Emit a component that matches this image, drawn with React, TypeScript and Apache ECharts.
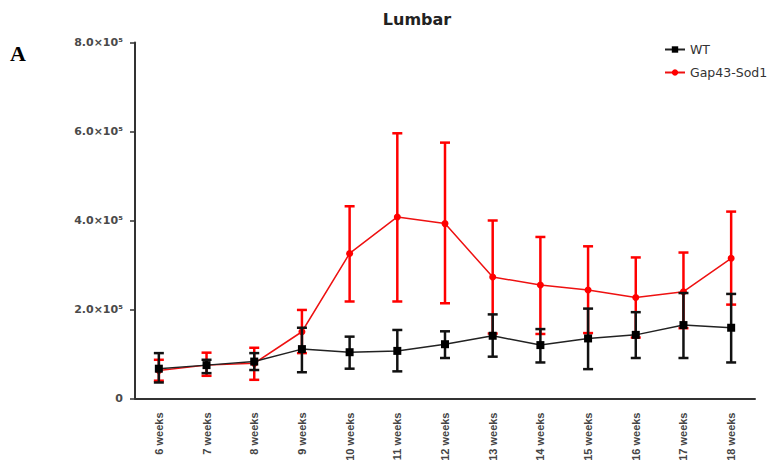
import React, { useEffect, useRef } from "react";
import * as echarts from "echarts";

const weeks = ["6 weeks", "7 weeks", "8 weeks", "9 weeks", "10 weeks", "11 weeks", "12 weeks", "13 weeks", "14 weeks", "15 weeks", "16 weeks", "17 weeks", "18 weeks"];
const yTicks = [0, 200000, 400000, 600000, 800000];

const wtMean = [67000, 75000, 83000, 111000, 104000, 107000, 122000, 141000, 120000, 135000, 143000, 165000, 159000];
const wtLow = [36000, 57000, 64000, 59000, 67000, 61000, 91000, 94000, 81000, 66000, 91000, 91000, 81000];
const wtHigh = [102000, 87000, 102000, 159000, 139000, 154000, 151000, 189000, 156000, 202000, 194000, 237000, 235000];

const gapMean = [63000, 75000, 79000, 150000, 326000, 408000, 393000, 273000, 255000, 244000, 227000, 240000, 315000];
const gapLow = [40000, 51000, 42000, 102000, 218000, 218000, 214000, 146000, 145000, 147000, 137000, 158000, 211000];
const gapHigh = [87000, 103000, 114000, 199000, 432000, 596000, 575000, 400000, 363000, 342000, 317000, 328000, 420000];

function errorSeries(name: string, low: number[], high: number[], color: string, z: number) {
  return {
    type: "custom",
    name,
    z,
    silent: true,
    encode: { x: 0, y: [1, 2] },
    data: low.map((l, i) => [i, l, high[i]]),
    renderItem: (params: any, api: any) => {
      const idx = api.value(0);
      const lo = api.coord([idx, api.value(1)]);
      const hi = api.coord([idx, api.value(2)]);
      const hw = 5;
      const style = { stroke: color, lineWidth: 2.5 };
      return {
        type: "group",
        children: [
          { type: "line", shape: { x1: lo[0], y1: lo[1], x2: hi[0], y2: hi[1] }, style },
          { type: "line", shape: { x1: hi[0] - hw, y1: hi[1], x2: hi[0] + hw, y2: hi[1] }, style },
          { type: "line", shape: { x1: lo[0] - hw, y1: lo[1], x2: lo[0] + hw, y2: lo[1] }, style },
        ],
      };
    },
  };
}

export default function App() {
  const ref = useRef<HTMLDivElement>(null);
  useEffect(() => {
    if (!ref.current) return;
    const chart = echarts.init(ref.current, undefined, { renderer: "svg" });
    chart.setOption({
      animation: false,
      backgroundColor: "#ffffff",
      graphic: [
        {
          type: "text",
          left: 10,
          top: 42,
          style: { text: "A", font: "bold 22px 'Liberation Serif', 'Times New Roman', serif", fill: "#000" },
        },
        {
          type: "text",
          x: 417,
          y: 19.5,
          style: {
            text: "Lumbar",
            textAlign: "center",
            textVerticalAlign: "middle",
            font: "bold 16px 'DejaVu Sans', sans-serif",
            fill: "#222",
          },
        },
      ],
      legend: {
        data: ["WT", "Gap43-Sod1"],
        orient: "vertical",
        left: 659,
        top: 38,
        itemWidth: 20,
        itemHeight: 8,
        itemGap: 10,
        textStyle: {
          fontFamily: "'DejaVu Sans', sans-serif",
          fontSize: 12.5,
          color: "#333",
        },
      },
      grid: { left: 135, top: 42.5, width: 620, height: 356, containLabel: false },
      xAxis: {
        type: "category",
        data: weeks,
        boundaryGap: true,
        axisLine: { lineStyle: { color: "#333", width: 2 } },
        axisTick: { alignWithLabel: true, length: 6, lineStyle: { color: "#333", width: 1.5 } },
        axisLabel: {
          rotate: 90,
          margin: 14,
          interval: 0,
          fontFamily: "'Liberation Sans', Arial, sans-serif",
          fontSize: 11,
          fontWeight: "bold",
          color: "#444",
        },
        splitLine: { show: false },
      },
      yAxis: {
        type: "value",
        min: yTicks[0],
        max: yTicks[yTicks.length - 1],
        interval: yTicks[1] - yTicks[0],
        axisLine: { show: true, lineStyle: { color: "#333", width: 2 } },
        axisTick: { show: true, length: 5, lineStyle: { color: "#333", width: 1.5 } },
        axisLabel: {
          margin: 12,
          fontFamily: "'DejaVu Sans', sans-serif",
          fontSize: 11,
          fontWeight: "bold",
          color: "#4a4a4a",
          formatter: (v: number) => (v === 0 ? "0" : (v / 100000).toFixed(1) + "×10⁵"),
        },
        splitLine: { show: false },
      },
      series: [
        errorSeries("Gap43-Sod1 SEM", gapLow, gapHigh, "#ff0000", 2),
        {
          type: "line",
          name: "Gap43-Sod1",
          data: gapMean,
          z: 3,
          symbol: "circle",
          symbolSize: 7,
          lineStyle: { color: "#ee1111", width: 1.5 },
          itemStyle: { color: "#ff0000" },
        },
        errorSeries("WT SEM", wtLow, wtHigh, "#111111", 4),
        {
          type: "line",
          name: "WT",
          data: wtMean,
          z: 5,
          symbol: "rect",
          symbolSize: 8,
          lineStyle: { color: "#222222", width: 1.5 },
          itemStyle: { color: "#000000" },
        },
      ],
    });
    return () => chart.dispose();
  }, []);
  return <div ref={ref} style={{ position: "fixed", left: 0, top: 0, width: 773, height: 465 }} />;
}
